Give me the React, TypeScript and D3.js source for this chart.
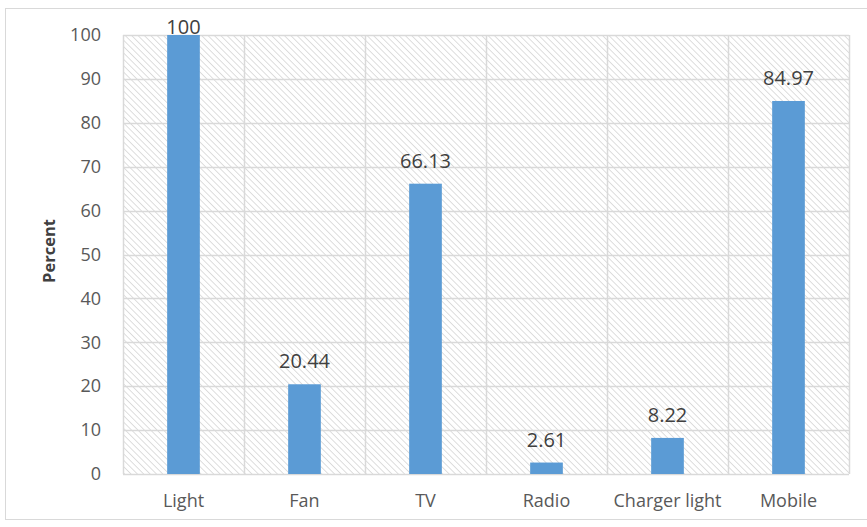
import { useEffect, useRef } from "react";
import * as d3 from "d3";

const categories = ["Light", "Fan", "TV", "Radio", "Charger light", "Mobile"];
const percents = [100, 20.44, 66.13, 2.61, 8.22, 84.97];
const valueLabels = ["100", "20.44", "66.13", "2.61", "8.22", "84.97"];
const yTicks = [0, 10, 20, 30, 40, 50, 60, 70, 80, 90, 100];

const W = 867;
const H = 527;
const FONT = "'Open Sans', 'Noto Sans', sans-serif";

const App = () => {
  const ref = useRef<SVGSVGElement | null>(null);

  useEffect(() => {
    const svg = d3.select(ref.current);
    svg.selectAll("*").remove();

    const margin = { top: 35, right: 18, bottom: 53, left: 123 };
    const x0 = margin.left;
    const x1 = W - margin.right;
    const y0 = H - margin.bottom;
    const y1 = margin.top;

    // hatch pattern for plot background
    const defs = svg.append("defs");
    const pat = defs
      .append("pattern")
      .attr("id", "hatch")
      .attr("patternUnits", "userSpaceOnUse")
      .attr("width", 4.5)
      .attr("height", 4.5)
      .attr("patternTransform", "rotate(-45)");
    pat.append("rect").attr("width", 4.5).attr("height", 4.5).attr("fill", "#ffffff");
    pat.append("line").attr("x1", 0).attr("y1", 0).attr("x2", 0).attr("y2", 4.5).attr("stroke", "#d6d6d6").attr("stroke-width", 1.6);

    // outer chart border
    svg
      .append("rect")
      .attr("x", 5.5)
      .attr("y", 8.5)
      .attr("width", W)
      .attr("height", 511)
      .attr("fill", "#fff")
      .attr("stroke", "#d9d9d9");

    const xScale = d3.scaleBand().domain(categories).range([x0, x1]).paddingInner(0).paddingOuter(0);
    const yScale = d3.scaleLinear().domain([0, 100]).range([y0, y1]);

    const g = svg.append("g");

    g.append("rect")
      .attr("x", x0)
      .attr("y", y1)
      .attr("width", x1 - x0)
      .attr("height", y0 - y1)
      .attr("fill", "url(#hatch)");

    // horizontal gridlines
    g.selectAll(".hgrid")
      .data(yTicks)
      .join("line")
      .attr("x1", x0)
      .attr("x2", x1)
      .attr("y1", (d) => Math.round(yScale(d)) + 0.5)
      .attr("y2", (d) => Math.round(yScale(d)) + 0.5)
      .attr("stroke", "#d9d9d9")
      .attr("stroke-width", 1.5);

    // vertical gridlines at category boundaries
    const bounds = categories.map((c) => xScale(c) as number).concat([x1]);
    g.selectAll(".vgrid")
      .data(bounds)
      .join("line")
      .attr("x1", (d) => Math.round(d) + 0.5)
      .attr("x2", (d) => Math.round(d) + 0.5)
      .attr("y1", y1)
      .attr("y2", y0)
      .attr("stroke", "#d9d9d9")
      .attr("stroke-width", 1.5);

    // bars
    const bw = xScale.bandwidth() * 0.27;
    g.selectAll(".bar")
      .data(percents)
      .join("rect")
      .attr("x", (d, i) => (xScale(categories[i]) as number) + xScale.bandwidth() / 2 - bw / 2)
      .attr("y", (d) => yScale(d))
      .attr("width", bw)
      .attr("height", (d) => y0 - yScale(d))
      .attr("fill", "#5b9bd5");

    // value labels (kept inside the chart area like Excel does at the top)
    g.selectAll(".val")
      .data(percents)
      .join("text")
      .attr("x", (d, i) => (xScale(categories[i]) as number) + xScale.bandwidth() / 2)
      .attr("y", (d) => Math.max(yScale(d) - 16, 34))
      .attr("text-anchor", "middle")
      .attr("font-family", FONT)
      .attr("font-size", 20)
      .attr("fill", "#404040")
      .text((d, i) => valueLabels[i]);

    // y axis labels
    const yAxis = g
      .append("g")
      .attr("transform", `translate(${x0},0)`)
      .call(d3.axisLeft(yScale).tickValues(yTicks).tickSize(0).tickPadding(22));
    yAxis.select(".domain").remove();
    yAxis
      .selectAll("text")
      .attr("font-family", FONT)
      .attr("font-size", 18)
      .attr("fill", "#595959");

    // x axis labels
    const xAxis = g
      .append("g")
      .attr("transform", `translate(0,${y0})`)
      .call(d3.axisBottom(xScale).tickSize(0).tickPadding(20));
    xAxis.select(".domain").remove();
    xAxis
      .selectAll("text")
      .attr("font-family", FONT)
      .attr("font-size", 18)
      .attr("fill", "#595959");

    // y title
    g.append("text")
      .attr("transform", `translate(55,251) rotate(-90)`)
      .attr("text-anchor", "middle")
      .attr("font-family", FONT)
      .attr("font-size", 16.5)
      .attr("font-weight", "bold")
      .attr("fill", "#404040")
      .text("Percent");
  }, []);

  return <svg ref={ref} width={W} height={H} style={{ position: "absolute", left: 0, top: 0 }} />;
};

export default App;
